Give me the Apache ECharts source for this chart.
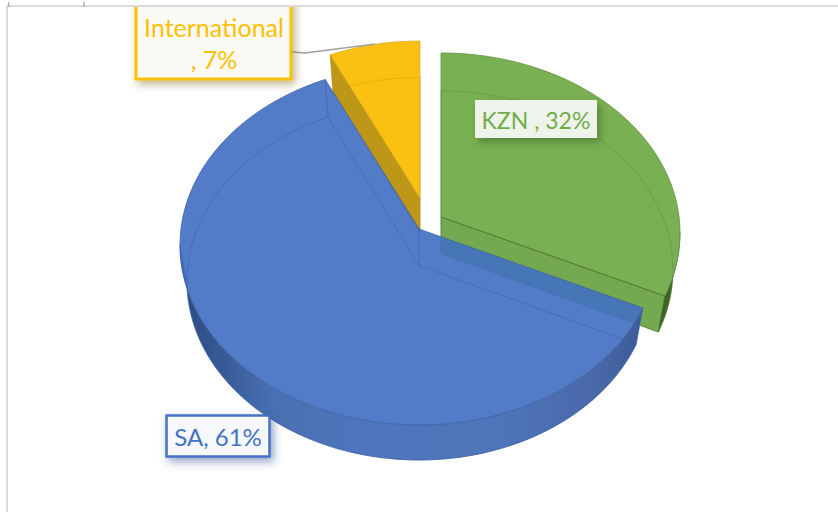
<!DOCTYPE html>
<html>
<head>
<meta charset="utf-8">
<style>html,body{margin:0;padding:0;background:#fff}#c{width:838px;height:512px}#c text{font-variant-ligatures:none}</style>
<script src="https://cdn.jsdelivr.net/npm/echarts@6/dist/echarts.min.js"></script>
</head>
<body>
<div id="c"></div>
<script>
// Values (drawn back to front, clockwise from -7%)
const categories = ['International', 'KZN', 'SA'];
const shares = [7, 32, 61];

// Styling and projection
const ELL = {cx: 419, cy: 245, rx: 239, ry: 180};
const BOT = {cx: 419, cy: 281.5, rx: 232, ry: 178.5};
const K = 16 / 180;
const ANCHOR = [[420, 198, 0.957], [441, 217, 1], [419, 229, 1]]; // exploded apex x, y, scale
const TOPFILL = ['rgba(250,190,10,0.97)', 'rgba(122,176,84,1)', 'rgba(66,112,194,0.915)'];
const EDGE = ['#D9AC1C', '#5F9040', '#3F63A6'];
const FAINT = ['rgba(190,140,10,0.4)', 'rgba(85,130,55,0.5)', 'rgba(50,85,165,0.5)'];
const LABELS = [
  {lines: ['International', ', 7%'], box: [136, -6, 155, 85], color: '#FFC000', bg: '#FBFAF5', lw: 3, shadow: 'rgba(120,95,10,0.45)', ty: [27, 59], tx: 214, fs: 25},
  {lines: ['KZN , 32%'], box: [475, 100, 122, 38], color: '#70AD47', bg: '#EEF4EB', lw: 0, shadow: 'rgba(60,105,35,0.65)', ty: [120], tx: 536, fs: 23},
  {lines: ['SA, 61%'], box: [166.5, 415.5, 103, 41], color: '#4472C4', bg: '#F6F8FC', lw: 2.5, shadow: 'rgba(40,70,140,0.5)', ty: [436], tx: 218, fs: 24}
];
const total = shares.reduce((a, b) => a + b, 0);

function proj(deg, face, anchor) {
  const t = deg * Math.PI / 180, u = Math.sin(t), v = -Math.cos(t), w = 1 - K * v;
  const X = face.rx * Math.sqrt(1 - K * K) * u / w, Y = face.ry * (v - K) / w;
  const yApexTop = -ELL.ry * K;
  const baseY = face.cy - ELL.cy;
  return [anchor[0] + anchor[2] * X,
          anchor[1] + anchor[2] * (baseY + Y - yApexTop)];
}
function arc(a0, a1, face, anchor) {
  const pts = [], n = Math.max(4, Math.ceil(Math.abs(a1 - a0) / 2));
  for (let i = 0; i <= n; i++) pts.push(proj(a0 + (a1 - a0) * i / n, face, anchor));
  return pts;
}
const poly = (points, style) => ({type: 'polygon', shape: {points}, style});
const line = (points, stroke, lineWidth) => ({type: 'polyline', shape: {points}, style: {stroke, lineWidth, fill: null}});
const grad = (x, x2, stops) => ({type: 'linear', x, y: 0, x2, y2: 0, global: true,
  colorStops: stops.map(s => ({offset: s[0], color: s[1]}))});

function labelEls(l) {
  const [x, y, w, h] = l.box;
  const els = [{type: 'rect', shape: {x, y, width: w, height: h}, style: {
    fill: l.bg, stroke: l.lw ? l.color : null, lineWidth: l.lw,
    shadowBlur: 9, shadowOffsetX: 3, shadowOffsetY: 4, shadowColor: l.shadow}}];
  l.lines.forEach((s, j) => els.push({type: 'text', style: {
    text: s, x: l.tx, y: l.ty[j], fill: l.color,
    font: l.fs + 'px Lato', textAlign: 'center', textVerticalAlign: 'middle'}}));
  return els;
}

function renderItem(params, api) {
  const i = params.dataIndex;
  const before = shares.slice(0, i).reduce((a, b) => a + b, 0);
  const startShare = (total - shares[0] + before) % total;
  const start = 360 * startShare / total;
  const end = start + 360 * api.value(1) / total;
  const A = ANCHOR[i];
  const topArc = arc(start, end, ELL, A);
  const botArc = arc(start, end, BOT, A);
  const apexT = [A[0], A[1]];
  const apexB = [A[0], A[1] + (BOT.cy - ELL.cy) * A[2]];
  const kids = [];

  if (i === 0) { // cut face on the left side
    const c = topArc[0], d = botArc[0];
    kids.push(poly([apexT, c, d, apexB], {fill: '#BE9618', stroke: '#A98510', lineWidth: 0.6}));
  }
  if (i === 1) { // cut face at the front + dark outer rim
    const c = topArc[topArc.length - 1], d = botArc[botArc.length - 1];
    kids.push(poly([apexT, c, d, apexB], {fill: '#74A951', stroke: '#5F9040', lineWidth: 0.8}));
    const rimTop = arc(95, end, ELL, A), rimBot = arc(95, end, BOT, A).reverse();
    kids.push(poly(rimTop.concat(rimBot), {fill: '#3A6627', stroke: '#3A6627', lineWidth: 0.5}));
  }
  if (i === 2) { // visible outer wall
    const rimTop = arc(start, 265, ELL, A), rimBot = arc(start, 265, BOT, A).reverse();
    kids.push(poly(rimTop.concat(rimBot), {
      fill: grad(182, 640, [[0, '#2B4A80'], [0.06, '#33558F'], [0.2, '#4A70B2'], [0.4, '#4F76BD'], [0.7, '#4E74B9'], [0.9, '#4A69A9'], [1, '#3C5C98']]),
      stroke: '#3E64A8', lineWidth: 0.6}));
  }
  // top face
  kids.push(poly([apexT].concat(topArc), {fill: TOPFILL[i], stroke: EDGE[i], lineWidth: 0.8}));
  // bottom outline seen through the top
  kids.push(line([botArc[0], apexB, botArc[botArc.length - 1]], FAINT[i], 0.8));
  kids.push(line(botArc, FAINT[i], 0.8));
  if (i === 2) {
    kids.push(line([apexT, apexB], FAINT[i], 0.8));
    kids.push(line([topArc[topArc.length - 1], botArc[botArc.length - 1]], FAINT[i], 0.8));
  }
  if (i === 1) kids.push(line([apexT, topArc[topArc.length - 1]], '#527F33', 1));

  if (i === 0) kids.push(line([[292, 52], [305, 53], [375, 44]], '#A0A0A0', 1.6));
  return {type: 'group', children: kids.concat(labelEls(LABELS[i]))};
}

const chart = echarts.init(document.getElementById('c'), null, {renderer: 'svg'});
chart.setOption({
  animation: false,
  backgroundColor: '#fff',
  graphic: {elements: [
    {type: 'rect', z: 100, silent: true, shape: {x: 0, y: 0, width: 838, height: 5}, style: {fill: '#fff'}},
    {type: 'rect', z: 101, silent: true, shape: {x: 6, y: 5, width: 832, height: 2}, style: {fill: '#DADADA'}},
    {type: 'rect', z: 101, silent: true, shape: {x: 6, y: 5, width: 2, height: 507}, style: {fill: '#DADADA'}},
    {type: 'text', z: 102, silent: true, x: 8, y: 0, style: {text: '(', fill: '#222', font: '6px Lato'}},
    {type: 'text', z: 102, silent: true, x: 83, y: 0, style: {text: ')', fill: '#222', font: '6px Lato'}}
  ]},
  series: [{
    type: 'custom',
    coordinateSystem: 'none',
    renderItem,
    silent: true,
    clip: false,
    data: categories.map((c, i) => ({name: c, value: [i, shares[i]]}))
  }]
});
</script>
</body>
</html>
